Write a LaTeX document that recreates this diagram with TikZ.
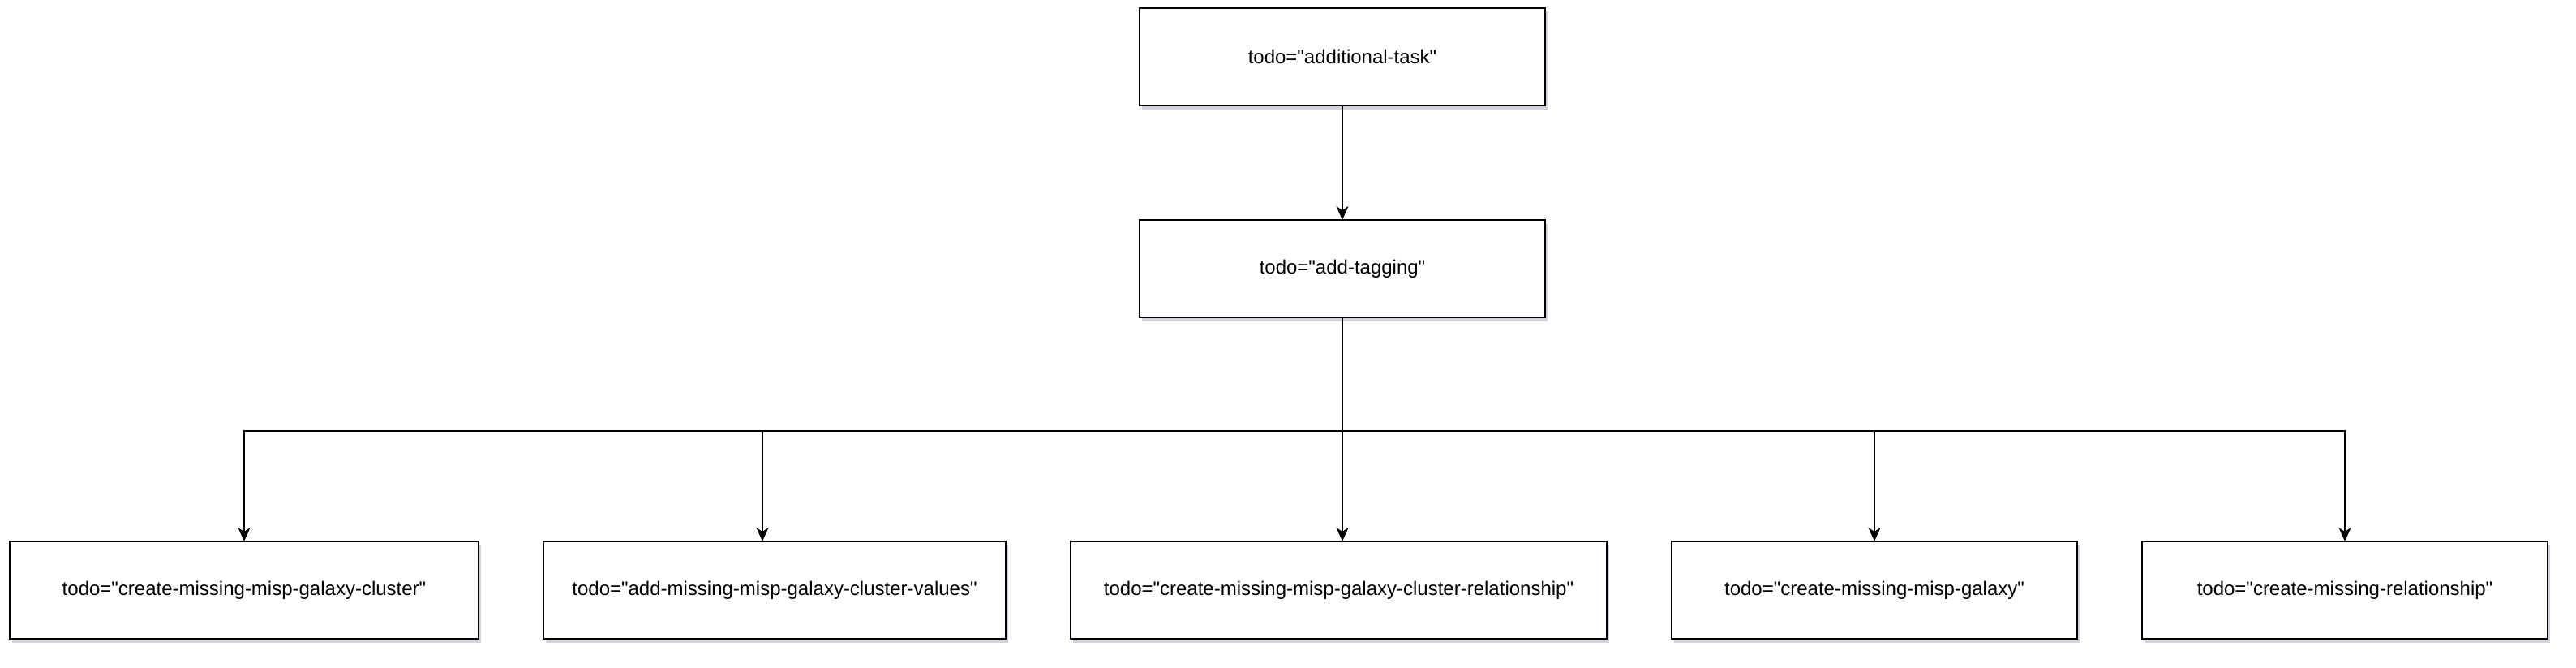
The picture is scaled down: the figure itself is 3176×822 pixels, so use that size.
\documentclass[tikz,border=0pt]{standalone}
\usepackage{fontspec}
\setmainfont{Liberation Sans}[Ligatures=TeXOff]
\usepackage{tikz}
\usetikzlibrary{arrows.meta,positioning,shadows}
\definecolor{shadowblue}{RGB}{110,110,150}
\newcommand{\boxheight}{120pt}
\newcommand{\hseparation}{80pt}
\tikzset{
    task/.style = { draw, line width=2.2pt, rectangle, align=center,
        minimum height = \boxheight,
        inner sep = 0pt, outer sep = 0pt,
        fill = white,
        font = \fontsize{24}{28}\selectfont,
        drop shadow = {shadow xshift=3pt, shadow yshift=-5pt, fill=shadowblue, opacity=0.3}
    },
    toptask/.style = { task, minimum width = 500pt },
    arrow/.style = { line width=1.6pt, -{Stealth[length=17pt, width=15pt, inset=5pt]} }
}

\begin{document}
\begin{tikzpicture}
        \useasboundingbox (0,0) rectangle (3176pt,822pt);

        % top levels...
        \node[toptask] (additional) at (1655pt,752pt) {todo="additional-task"};
        \node[toptask] (tagging) [below=141pt of additional] {todo="add-tagging"};

        % bottom row...
        \node[task, minimum width=578pt] (cluster) at (301pt,95pt) {todo="create-missing-misp-galaxy-cluster"};
        \node[task, minimum width=570pt] (values) [right=\hseparation of cluster] {todo="add-missing-misp-galaxy-cluster-values"};
        \node[task, minimum width=661pt] (clusterrel) [right=\hseparation of values] {todo="create-missing-misp-galaxy-cluster-relationship"};
        \node[task, minimum width=500pt] (galaxy) [right=\hseparation of clusterrel] {todo="create-missing-misp-galaxy"};
        \node[task, minimum width=500pt] (relationship) [right=\hseparation of galaxy] {todo="create-missing-relationship"};

        \coordinate (split) at ([yshift=-140pt]tagging.south);

        % arrows...
        \draw[arrow] (additional) -- (tagging);
        \draw[arrow] (tagging.south) -- (split) -| (cluster.north);
        \draw[arrow] (split) -| ([xshift=-15pt]values.north);
        \draw[arrow] (tagging.south) -- (tagging.south |- clusterrel.north);
        \draw[arrow] (split) -| (galaxy.north);
        \draw[arrow] (split) -| (relationship.north);

    \end{tikzpicture}
\end{document}
